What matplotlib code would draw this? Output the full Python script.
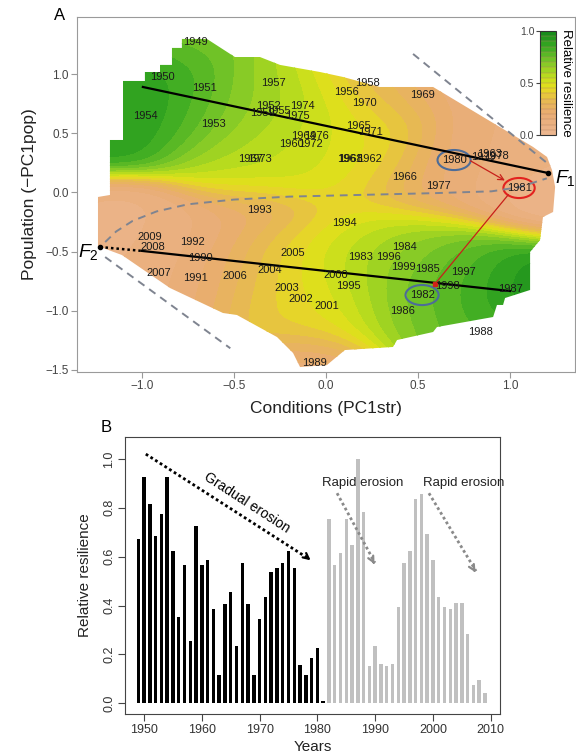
import numpy as np
import matplotlib
matplotlib.use('Agg')
import matplotlib.pyplot as plt
from matplotlib.colors import LinearSegmentedColormap
from matplotlib.patches import Ellipse, Polygon

plt.rcParams['font.family'] = ['Liberation Sans', 'DejaVu Sans']
plt.rcParams['mathtext.fontset'] = 'custom'
plt.rcParams['mathtext.it'] = 'Liberation Sans:italic'
plt.rcParams['mathtext.rm'] = 'Liberation Sans'

# --- данные ---
years = list(range(1949, 2010))
resilience = [0.673, 0.925, 0.815, 0.683, 0.776, 0.925, 0.624, 0.355, 0.566, 0.254,
              0.724, 0.566, 0.585, 0.385, 0.114, 0.405, 0.454, 0.235, 0.575, 0.405,
              0.114, 0.344, 0.435, 0.536, 0.555, 0.575, 0.624, 0.555, 0.155, 0.114,
              0.184, 0.226, 0.010, 0.754, 0.565, 0.614, 0.754, 0.648, 1.000, 0.784,
              0.154, 0.233, 0.162, 0.154, 0.162, 0.392, 0.574, 0.623, 0.835, 0.855,
              0.694, 0.585, 0.435, 0.392, 0.385, 0.412, 0.412, 0.285, 0.074, 0.094,
              0.042]

# PC1str (x) и -PC1pop (y) для каждого года
conditions = [-0.712, -0.891, -0.658, -0.315, -0.614, -0.984, -0.261, 0.109, -0.288, 0.223,
              -0.348, -0.185, 0.130, 0.239, 0.891, -0.125, 0.174, 0.429, -0.413, 0.136,
              0.522, 0.207, 0.239, -0.087, -0.359, -0.130, -0.158, -0.054, 0.609, 0.924,
              0.853, 0.696, 1.049, 0.522, 0.190, 0.429, 0.549, 0.418, 1.005, 0.842,
              -0.060, -0.685, -0.707, -0.723, -0.364, 0.098, 0.120, 0.342, 0.745, 0.658,
              0.418, 0.054, 0.005, -0.136, -0.212, -0.304, -0.179, -0.495, -0.908, -0.940,
              -0.957]
population = [1.275, 0.979, 0.886, 0.733, 0.581, 0.648, 0.691, 0.852, 0.928, 0.928,
              0.674, 0.411, 0.284, 0.284, 0.326, 0.479, 0.564, 0.131, 0.284, 0.284,
              0.826, 0.758, 0.513, 0.411, 0.284, 0.733, 0.648, 0.479, 0.055, 0.309,
              0.301, 0.275, 0.038, -0.869, -0.547, -0.462, -0.648, -1.004, -0.818, -1.182,
              -1.445, -0.555, -0.725, -0.419, -0.148, -0.258, -0.792, -0.547, -0.674, -0.792,
              -0.631, -0.699, -0.962, -0.903, -0.809, -0.657, -0.513, -0.708, -0.682, -0.462,
              -0.377]

# контур области поверхности
boundary_x = [-1.103, -0.984, -0.984, -0.902, -0.902, -0.837, -0.837, -0.783, -0.783, -0.647,
              -0.495, -0.359, -0.250, -0.033, 0.092, 0.293, 0.582, 1.125, 1.201, 1.228,
              1.245, 1.234, 1.179, 1.163, 1.109, 1.109, 0.973, 0.962, 0.929, 0.908,
              0.603, 0.582, 0.386, 0.364, 0.103, 0.038, 0.005, -0.141, -0.179, -0.266,
              -0.484, -0.560, -0.848, -1.109, -1.212, -1.239, -1.239, -1.174, -1.174, -1.103]
boundary_y = [0.945, 0.945, 1.021, 1.021, 1.081, 1.081, 1.225, 1.225, 1.301, 1.301,
              1.148, 1.148, 1.081, 1.021, 0.979, 0.894, 0.894, 0.386, 0.301, 0.191,
              0.047, -0.165, -0.208, -0.403, -0.504, -0.826, -0.894, -0.953, -0.953, -1.055,
              -1.140, -1.182, -1.250, -1.309, -1.335, -1.419, -1.462, -1.479, -1.360, -1.225,
              -1.038, -1.021, -0.809, -0.530, -0.470, -0.462, -0.038, -0.021, 0.445, 0.445]

# линии трендов и аттракторы
trend1_x = [-0.995, 1.207]
trend1_y = [0.894, 0.165]
trend2_x = [-1.0, 1.0]
trend2_y = [-0.495, -0.835]
F1 = (1.207, 0.165)
F2 = (-1.228, -0.462)

colors_cmap = [(0.0, '#ecb792'), (0.2, '#e9ac74'), (0.35, '#e7bb4c'), (0.45, '#e6df1c'),
               (0.55, '#c4df1c'), (0.7, '#7cc728'), (0.85, '#38a922'), (1.0, '#12881a')]
cmap = LinearSegmentedColormap.from_list('resil', colors_cmap)

fig = plt.figure(figsize=(5.76, 7.56), dpi=100)

# ================= панель A =================
ax = fig.add_axes([77/576, 1-372/756, 498/576, 355/756])
ax.set_xlim(-1.353, 1.353)
ax.set_ylim(-1.521, 1.487)

# сглаженная поверхность устойчивости по точкам лет
px = np.array(conditions)
py = np.array(population)
pv = np.array(resilience)
gx, gy = np.meshgrid(np.linspace(-1.3, 1.3, 220), np.linspace(-1.55, 1.35, 240))
h = 0.22
w = np.exp(-((gx[..., None]-px)**2 + (gy[..., None]-py)**2) / (2*h*h))
w0 = 0.02
gz = ((w*pv).sum(-1) + w0*pv.mean()) / (w.sum(-1) + w0)

levels = np.linspace(0, 1, 21)
cs = ax.contourf(gx, gy, gz, levels=levels, cmap=cmap, vmin=0, vmax=1)
clip = Polygon(np.column_stack([boundary_x, boundary_y]), closed=True,
               facecolor='none', edgecolor='none', transform=ax.transData)
ax.add_patch(clip)
cs.set_clip_path(clip)

# пунктирные направляющие
ax.plot([0.473, 1.201], [1.174, 0.25], ls=(0, (4, 3)), color='#7f8490', lw=1.4)
ax.plot([-1.20, -0.52], [-0.547, -1.32], ls=(0, (4, 3)), color='#7f8490', lw=1.4)
arc_x = [-1.20, -1.14, -1.05, -0.92, -0.75, -0.5, -0.2, 0.2, 0.6, 0.9, 1.05, 1.2]
arc_y = [-0.42, -0.33, -0.24, -0.16, -0.10, -0.06, -0.035, -0.02, -0.005, 0.01, 0.045, 0.12]
ax.plot(arc_x, arc_y, ls=(0, (4, 3)), color='#7f8490', lw=1.4)

ax.plot(trend1_x, trend1_y, color='black', lw=1.6)
ax.plot(trend2_x, trend2_y, color='black', lw=1.6)
ax.plot([F2[0], trend2_x[0]], [F2[1], trend2_y[0]], color='black', lw=1.8, ls=(0, (1, 1.2)))
ax.plot([F1[0], F2[0]], [F1[1], F2[1]], 'o', color='black', ms=3, ls='none')
ax.text(1.243, 0.08, r'$\mathit{F}_1$', fontsize=14, ha='left', va='baseline')
ax.text(-1.237, -0.545, r'$\mathit{F}_2$', fontsize=14, ha='right', va='baseline')

for yr, x, y in zip(years, conditions, population):
    ax.text(x, y, str(yr), fontsize=8, ha='center', va='center', color='#1a1a1a')

# выделенные годы
ax.add_patch(Ellipse((0.696, 0.275), 0.18, 0.17, fill=False, ec='#4d6c98', lw=1.5))
ax.add_patch(Ellipse((0.522, -0.869), 0.18, 0.17, fill=False, ec='#4d6c98', lw=1.5))
ax.add_patch(Ellipse((1.049, 0.038), 0.17, 0.17, fill=False, ec='#e3221f', lw=1.5))
ax.annotate('', xy=(0.985, 0.09), xytext=(0.772, 0.28),
            arrowprops=dict(arrowstyle='->', color='#c8201a', lw=0.9))
ax.plot([0.592, 0.99], [-0.775, -0.02], color='#c8201a', lw=0.9)
ax.plot([0.592], [-0.775], 's', color='#d02018', ms=2.5)

ax.set_xticks([-1.0, -0.5, 0.0, 0.5, 1.0])
ax.set_yticks([-1.5, -1.0, -0.5, 0.0, 0.5, 1.0])
ax.set_xticklabels(['\u22121.0', '\u22120.5', '0.0', '0.5', '1.0'])
ax.set_yticklabels(['\u22121.5', '\u22121.0', '\u22120.5', '0.0', '0.5', '1.0'])
ax.tick_params(labelsize=8.5, colors='#444444', length=4, color='#999999', pad=2)
for s in ax.spines.values():
    s.set_color('#9a9a9a')
ax.set_xlabel('Conditions (PC1str)', fontsize=12.5, color='#222222', labelpad=6)
ax.set_ylabel('Population (\u2212PC1pop)', fontsize=12.5, color='#222222', labelpad=6)

# шкала цветов
cax = fig.add_axes([540/576, 1-135/756, 16/576, 104/756])
cb = fig.colorbar(cs, cax=cax, ticks=[0, 0.5, 1.0], drawedges=True)
cb.dividers.set_color('#b08060')
cb.dividers.set_linewidth(0.3)
cb.outline.set_edgecolor('#333333')
cb.outline.set_linewidth(0.8)
cax.yaxis.set_ticks_position('left')
cax.yaxis.set_label_position('right')
cax.set_yticklabels(['0.0', '0.5', '1.0'])
cax.tick_params(labelsize=7.5, colors='#444444', length=3, pad=1)
cax.set_ylabel('Relative resilience', rotation=-90, va='bottom', fontsize=9.5, labelpad=3)

# ================= панель B =================
bx = fig.add_axes([125/576, 1-714/756, 375/576, 277/756])
bar_colors = ['black' if yr <= 1981 else '#c0c0c0' for yr in years]
bx.bar(years, resilience, width=0.6, color=bar_colors)
bx.set_xlim(1946.7, 2011.6)
bx.set_ylim(-0.044, 1.09)
bx.set_xticks(range(1950, 2011, 10))
bx.set_yticks([0.0, 0.2, 0.4, 0.6, 0.8, 1.0])
bx.set_yticklabels(['0.0', '0.2', '0.4', '0.6', '0.8', '1.0'], rotation=90, va='center')
bx.tick_params(labelsize=9, colors='#333333', length=5, color='#444444', pad=2)
for s in bx.spines.values():
    s.set_color('#444444')
bx.set_xlabel('Years', fontsize=11, color='#222222', labelpad=3)
bx.set_ylabel('Relative resilience', fontsize=11, color='#222222', labelpad=8)

# стрелки эрозии
bx.plot([1950.3, 1978.6], [1.02, 0.59], color='black', lw=2, ls=(0, (1, 1)))
bx.annotate('', xy=(1979.2, 0.578), xytext=(1977.8, 0.605),
            arrowprops=dict(arrowstyle='->', color='black', lw=1.6))
bx.text(1967.8, 0.82, 'Gradual erosion', rotation=-33, fontsize=10,
        ha='center', va='center', rotation_mode='anchor')
for x0, y0, x1, y1, tx in [(1983.4, 0.86, 1990.1, 0.56, 1987.9),
                           (1999.3, 0.86, 2007.6, 0.526, 2005.4)]:
    bx.plot([x0, x1 - 0.15], [y0, y1 + 0.015], color='#8a8a8a', lw=2, ls=(0, (1, 1)))
    bx.annotate('', xy=(x1, y1), xytext=(x1 - 0.09*(x1-x0), y1 + 0.09*(y0-y1)),
                arrowprops=dict(arrowstyle='->', color='#8a8a8a', lw=1.6))
    bx.text(tx, 0.90, 'Rapid erosion', fontsize=9.5, ha='center', va='center', color='#222222')

fig.text(60/576, 1-15/756, 'A', fontsize=12, ha='center', va='center')
fig.text(106/576, 1-428/756, 'B', fontsize=12, ha='center', va='center')

fig.savefig('out.png', dpi=100)
